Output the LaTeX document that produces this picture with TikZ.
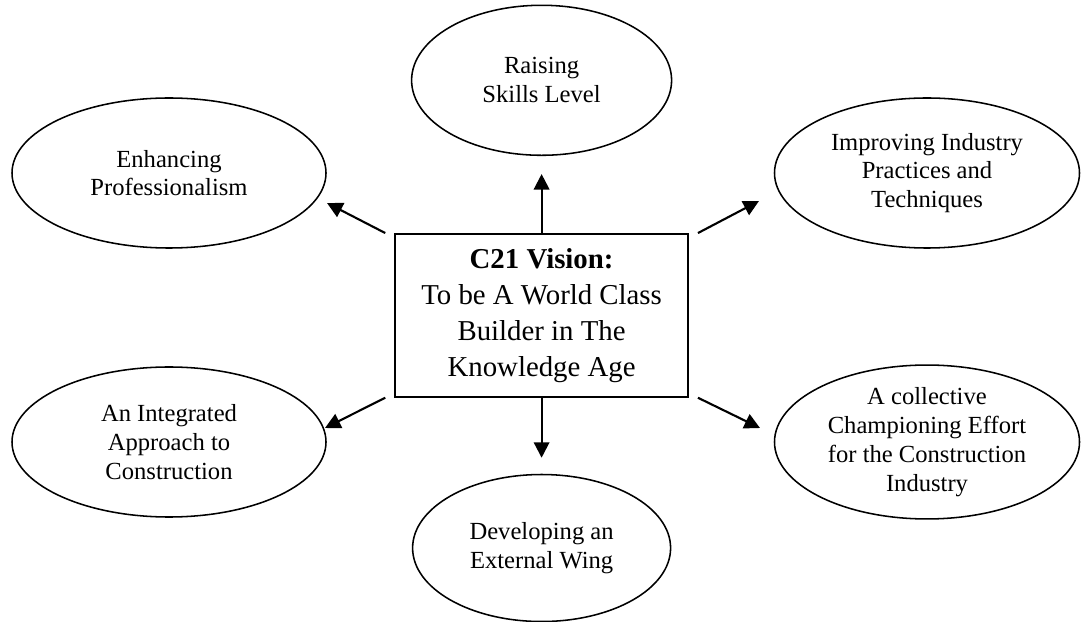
\documentclass[tikz,border=0pt]{standalone}
\usepackage{fontspec}
\setmainfont{Liberation Serif}
\usetikzlibrary{positioning,shapes.geometric,arrows.meta}

\begin{document}
\begin{tikzpicture}[
        goalnode/.style={ellipse, draw=black, line width=1.1pt, inner sep=0pt, minimum height=3.75cm, align=center, font=\fontsize{17.5}{20.5}\selectfont},
        visionbox/.style={rectangle, draw=black, line width=1.2pt, minimum width=7.325cm, minimum height=4.075cm, align=center, font=\fontsize{20.5}{25.6}\selectfont},
        arrowline/.style={-{Triangle[length=11pt,width=11pt]}, line width=1.5pt}]
        \useasboundingbox (0,0) rectangle (27.075,15.525);
        \node[visionbox] (vision) at (13.54,7.64) {\textbf{C21 Vision:}\\To be A World Class\\Builder in The\\Knowledge Age};
        \node[goalnode, minimum width=6.5cm] (skills) [above=1.925cm of vision] {Raising\\Skills Level};
        \node[goalnode, minimum width=6.45cm, minimum height=3.675cm] (wing) [below=1.9cm of vision] {Developing an\\External Wing};
        \node[goalnode, minimum width=7.85cm] (prof) at (4.225,11.2) {Enhancing\\Professionalism};
        \node[goalnode, minimum width=7.625cm] (practices) at (23.175,11.2) {Improving Industry\\Practices and\\Techniques};
        \node[goalnode, minimum width=7.85cm] (integrated) at (4.225,4.475) {An Integrated\\Approach to\\Construction};
        \node[goalnode, minimum width=7.625cm] (champion) at (23.175,4.475) {A collective\\Championing Effort\\for the Construction\\Industry};
        % arrow tips stop short of the ellipses
        \coordinate (profTip) at (8.175,10.45);
        \coordinate (practicesTip) at (18.975,10.5);
        \coordinate (integratedTip) at (8.125,4.825);
        \coordinate (championTip) at (19.0,4.825);
        \draw[arrowline, shorten >=0.45cm] (vision.north) -- (skills.south);
        \draw[arrowline, shorten >=0.4cm] (vision.south) -- (wing.north);
        \draw[arrowline] ([xshift=-0.225cm]vision.north west) -- (profTip);
        \draw[arrowline] ([xshift=0.225cm]vision.north east) -- (practicesTip);
        \draw[arrowline] ([xshift=-0.225cm]vision.south west) -- (integratedTip);
        \draw[arrowline] ([xshift=0.225cm]vision.south east) -- (championTip);
\end{tikzpicture}
\end{document}
